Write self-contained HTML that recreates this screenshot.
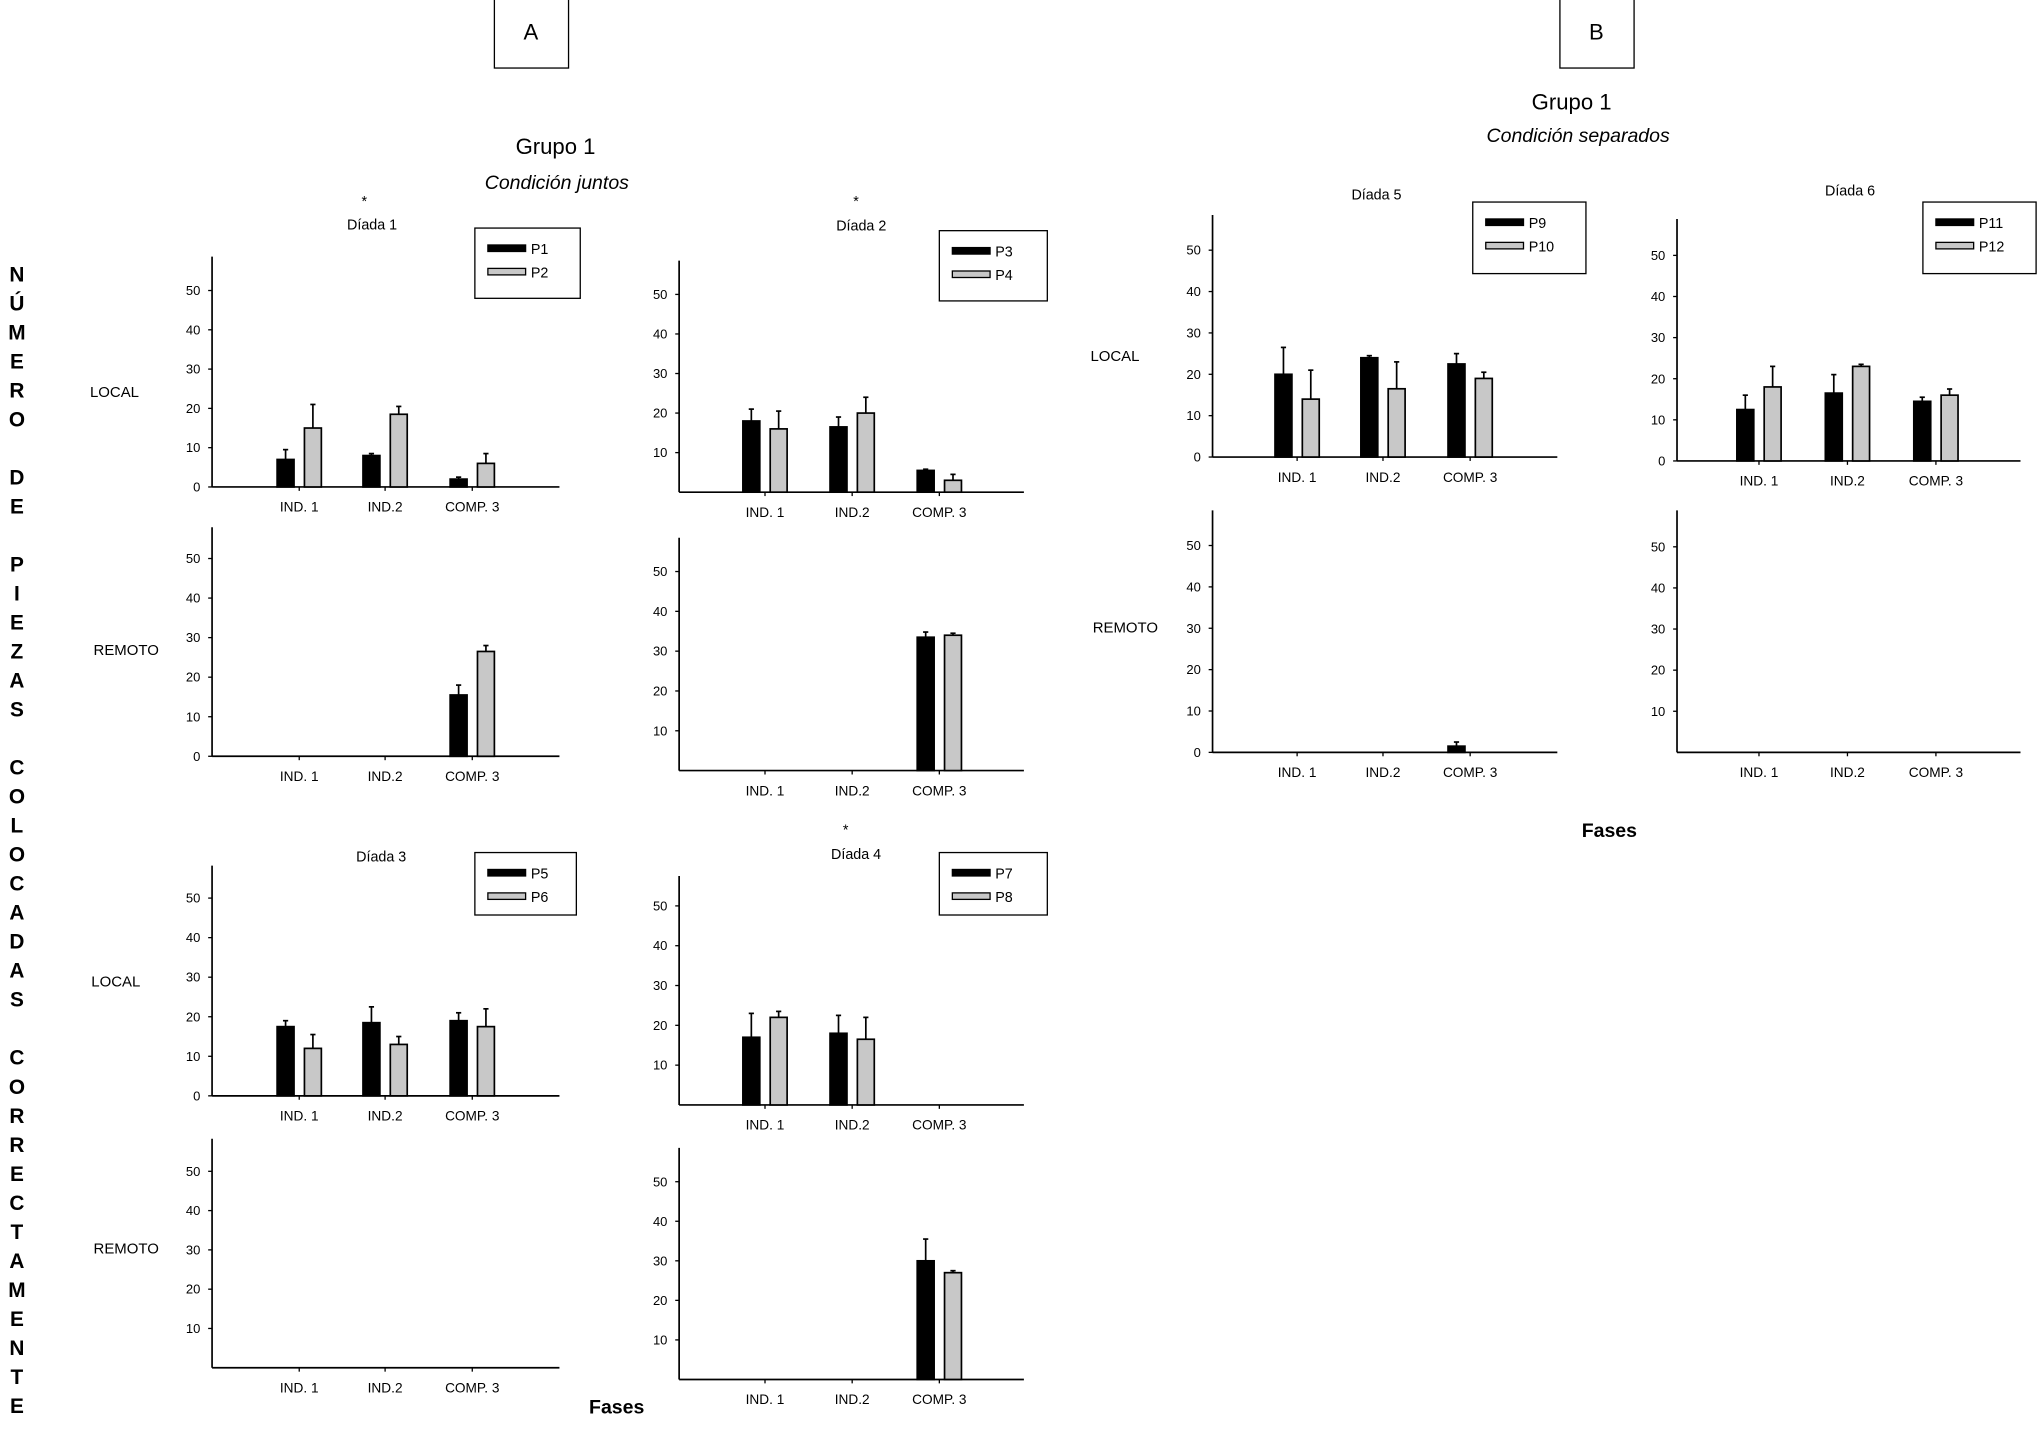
<!DOCTYPE html>
<html><head><meta charset="utf-8"><style>
html,body{margin:0;padding:0;background:#fff;}
svg{display:block;font-family:"Liberation Sans",Arial,sans-serif;}
</style></head><body>
<svg id="fig" width="2040" height="1441" viewBox="0 0 1568 1107" xmlns="http://www.w3.org/2000/svg">
<rect x="0" y="0" width="1568" height="1107" fill="#fff"/>
<g><rect x="380" y="-2" width="57" height="54" fill="none" stroke="#000" stroke-width="1"/><text x="408" y="30" font-size="17" text-anchor="middle">A</text></g>
<g><rect x="1199" y="-2" width="57" height="54" fill="none" stroke="#000" stroke-width="1"/><text x="1227" y="30" font-size="17" text-anchor="middle">B</text></g>
<text x="427" y="118" font-size="17" text-anchor="middle">Grupo 1</text>
<text x="428" y="145" font-size="15" font-style="italic" text-anchor="middle">Condición juntos</text>
<text x="1208" y="84" font-size="17" text-anchor="middle">Grupo 1</text>
<text x="1213" y="109" font-size="15" font-style="italic" text-anchor="middle">Condición separados</text>
<text x="474" y="1086" font-size="15" font-weight="bold" text-anchor="middle">Fases</text>
<text x="1237" y="643" font-size="15" font-weight="bold" text-anchor="middle">Fases</text>
<g id="ytitle"></g>
<g id="charts"></g>
</svg>
<script>
const NS="http://www.w3.org/2000/svg";
const categories=["IND. 1","IND.2","COMP. 3"];
// values per panel: [black series], [gray series], error tops
const d1LocalA=[7,8,2], d1LocalB=[15,18.5,6], d1LocalEA=[9.5,8.5,2.5], d1LocalEB=[21,20.5,8.5];
const d1RemA=[null,null,15.5], d1RemB=[null,null,26.5], d1RemEA=[null,null,18], d1RemEB=[null,null,28];
const d2LocalA=[18,16.5,5.5], d2LocalB=[16,20,3], d2LocalEA=[21,19,5.8], d2LocalEB=[20.5,24,4.5];
const d2RemA=[null,null,33.5], d2RemB=[null,null,34], d2RemEA=[null,null,34.8], d2RemEB=[null,null,34.5];
const d3LocalA=[17.5,18.5,19], d3LocalB=[12,13,17.5], d3LocalEA=[19,22.5,21], d3LocalEB=[15.5,15,22];
const d3RemA=[null,null,null], d3RemB=[null,null,null], d3RemEA=[null,null,null], d3RemEB=[null,null,null];
const d4LocalA=[17,18,null], d4LocalB=[22,16.5,null], d4LocalEA=[23,22.5,null], d4LocalEB=[23.5,22,null];
const d4RemA=[null,null,30], d4RemB=[null,null,27], d4RemEA=[null,null,35.5], d4RemEB=[null,null,27.5];
const d5LocalA=[20,24,22.5], d5LocalB=[14,16.5,19], d5LocalEA=[26.5,24.5,25], d5LocalEB=[21,23,20.5];
const d5RemA=[null,null,1.5], d5RemB=[null,null,null], d5RemEA=[null,null,2.5], d5RemEB=[null,null,null];
const d6LocalA=[12.5,16.5,14.5], d6LocalB=[18,23,16], d6LocalEA=[16,21,15.5], d6LocalEB=[23,23.5,17.5];
const d6RemA=[null,null,null], d6RemB=[null,null,null], d6RemEA=[null,null,null], d6RemEB=[null,null,null];
const ticksWithZero=[0,10,20,30,40,50];
const ticksNoZero=[10,20,30,40,50];

const g=document.getElementById('charts');
function el(tag,attrs,parent,text){const e=document.createElementNS(NS,tag);for(const k in attrs)e.setAttribute(k,attrs[k]);if(text!==undefined)e.textContent=text;(parent||g).appendChild(e);return e;}

function panel(o){
  const grp=el('g',{});
  
  
  const y=v=>o.base-(o.base-o.y50)*v/50;
  const x0=o.ax, x1=o.xend;
  const cx=o.centers;
  el('line',{x1:x0,y1:o.top,x2:x0,y2:o.base,stroke:'#000','stroke-width':1.3},grp);
  el('line',{x1:x0,y1:o.base,x2:x1,y2:o.base,stroke:'#000','stroke-width':1.3},grp);
  const ticks=o.zero?ticksWithZero:ticksNoZero;
  ticks.forEach(t=>{
    el('line',{x1:x0-3,y1:y(t),x2:x0,y2:y(t),stroke:'#000','stroke-width':1},grp);
    const tx=el('text',{x:x0-9,y:y(t)+3.5,'font-size':10,'text-anchor':'end'},grp,String(t));
    
    
  });
  categories.forEach((c,i)=>{
    el('line',{x1:cx[i],y1:o.base,x2:cx[i],y2:o.base+3,stroke:'#000','stroke-width':1},grp);
    const tx=el('text',{x:cx[i],y:o.base+19,'font-size':10.5,'text-anchor':'middle'},grp,c);
    
    
    [[o.A,o.EA,-17,'#000'],[o.B,o.EB,4,'#c8c8c8']].forEach(([vals,errs,off,fill])=>{
      const v=vals[i]; if(v==null) return;
      const bx=cx[i]+off, w=13;
      const e=errs[i];
      if(e!=null&&e>v){
        el('line',{x1:bx+w/2,y1:y(v),x2:bx+w/2,y2:y(e),stroke:'#000','stroke-width':1.3},grp);
        el('line',{x1:bx+w/2-2,y1:y(e),x2:bx+w/2+2,y2:y(e),stroke:'#000','stroke-width':1.3},grp);
      }
      const r=el('rect',{x:bx,y:y(v),width:w,height:o.base-y(v),fill:fill,stroke:'#000','stroke-width':1.3},grp);
      
      
    });
  });
  if(o.title){
    el('text',{x:o.title[0],y:o.title[1],'font-size':11,'text-anchor':'middle'},grp,o.title[2]);
  }
  if(o.star){el('text',{x:o.star[0],y:o.star[1],'font-size':11,'text-anchor':'middle'},grp,'*');}
  if(o.side){el('text',{x:o.side[0],y:o.side[1],'font-size':11.5,'text-anchor':'middle'},grp,o.side[2]);}
  if(o.legend){
    const [lx,ly,lw,lh,n1,n2]=o.legend;
    const lg=el('g',{},grp);
    
    
    el('rect',{x:lx,y:ly,width:lw,height:lh,fill:'#fff',stroke:'#000','stroke-width':1},lg);
    el('rect',{x:lx+10,y:ly+13,width:29,height:5,fill:'#000',stroke:'#000'},lg);
    el('rect',{x:lx+10,y:ly+31,width:29,height:5,fill:'#c8c8c8',stroke:'#000'},lg);
    el('text',{x:lx+43,y:ly+20,'font-size':11},lg,n1);
    el('text',{x:lx+43,y:ly+38,'font-size':11},lg,n2);
  }
  g.appendChild(grp);
}
const cA=[230,296,363], cB=[997,1063,1130], cC=[1352,1420,1488], cD=[588,655,722];
panel({name:'diada-1-local',ax:163,xend:430,top:197,base:374,y50:223,zero:true,centers:cA,A:d1LocalA,B:d1LocalB,EA:d1LocalEA,EB:d1LocalEB,title:[286,176,'Díada 1'],star:[280,158],side:[88,305,'LOCAL'],legend:[365,175,81,54,'P1','P2']});
panel({name:'diada-1-remoto',ax:163,xend:430,top:405,base:581,y50:429,zero:true,centers:cA,A:d1RemA,B:d1RemB,EA:d1RemEA,EB:d1RemEB,side:[97,503,'REMOTO']});
panel({name:'diada-2-local',ax:522,xend:787,top:200,base:378,y50:226,zero:false,centers:cD,A:d2LocalA,B:d2LocalB,EA:d2LocalEA,EB:d2LocalEB,title:[662,177,'Díada 2'],star:[658,158],legend:[722,177,83,54,'P3','P4']});
panel({name:'diada-2-remoto',ax:522,xend:787,top:413,base:592,y50:439,zero:false,centers:cD,A:d2RemA,B:d2RemB,EA:d2RemEA,EB:d2RemEB});
panel({name:'diada-3-local',ax:163,xend:430,top:665,base:842,y50:690,zero:true,centers:cA,A:d3LocalA,B:d3LocalB,EA:d3LocalEA,EB:d3LocalEB,title:[293,662,'Díada 3'],side:[89,758,'LOCAL'],legend:[365,655,78,48,'P5','P6']});
panel({name:'diada-3-remoto',ax:163,xend:430,top:875,base:1051,y50:900,zero:false,centers:cA,A:d3RemA,B:d3RemB,EA:d3RemEA,EB:d3RemEB,side:[97,963,'REMOTO']});
panel({name:'diada-4-local',ax:522,xend:787,top:673,base:849,y50:696,zero:false,centers:cD,A:d4LocalA,B:d4LocalB,EA:d4LocalEA,EB:d4LocalEB,title:[658,660,'Díada 4'],star:[650,641],legend:[722,655,83,48,'P7','P8']});
panel({name:'diada-4-remoto',ax:522,xend:787,top:882,base:1060,y50:908,zero:false,centers:cD,A:d4RemA,B:d4RemB,EA:d4RemEA,EB:d4RemEB});
panel({name:'diada-5-local',ax:932,xend:1197,top:165,base:351,y50:192,zero:true,centers:cB,A:d5LocalA,B:d5LocalB,EA:d5LocalEA,EB:d5LocalEB,title:[1058,153,'Díada 5'],side:[857,277,'LOCAL'],legend:[1132,155,87,55,'P9','P10']});
panel({name:'diada-5-remoto',ax:932,xend:1197,top:392,base:578,y50:419,zero:true,centers:cB,A:d5RemA,B:d5RemB,EA:d5RemEA,EB:d5RemEB,side:[865,486,'REMOTO']});
panel({name:'diada-6-local',ax:1289,xend:1553,top:168,base:354,y50:196,zero:true,centers:cC,A:d6LocalA,B:d6LocalB,EA:d6LocalEA,EB:d6LocalEB,title:[1422,150,'Díada 6'],legend:[1478,155,87,55,'P11','P12']});
panel({name:'diada-6-remoto',ax:1289,xend:1553,top:392,base:578,y50:420,zero:false,centers:cC,A:d6RemA,B:d6RemB,EA:d6RemEA,EB:d6RemEB});

const yt=document.getElementById('ytitle');
const s="NÚMERO DE PIEZAS COLOCADAS CORRECTAMENTE";
for(let i=0;i<s.length;i++){
  if(s[i]===' ')continue;
  el('text',{x:13,y:216+i*22.3,'font-size':16,'font-weight':'bold','text-anchor':'middle'},yt,s[i]);
}
</script>
</body></html>
